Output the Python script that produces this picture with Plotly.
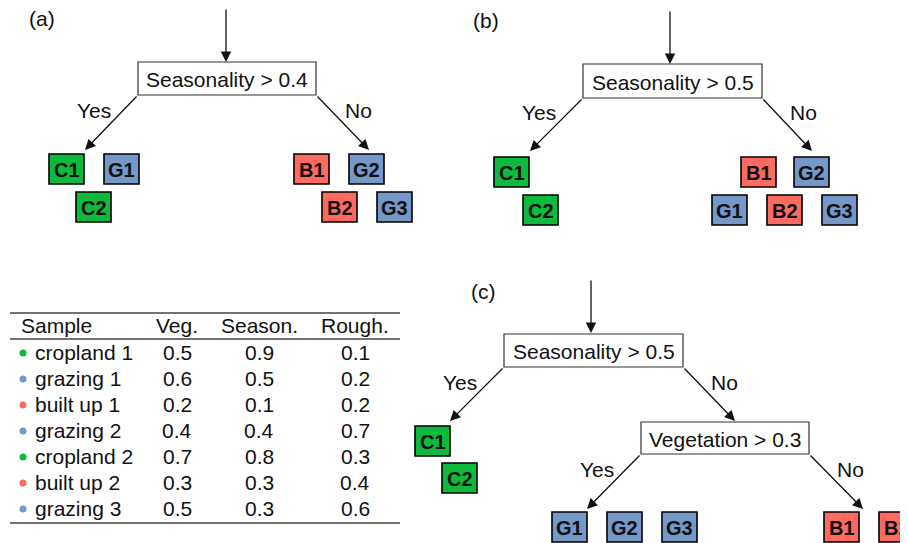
import plotly.graph_objects as go

# ---------------- data ----------------
samples = ["cropland 1", "grazing 1", "built up 1", "grazing 2", "cropland 2", "built up 2", "grazing 3"]
codes = ["C1", "G1", "B1", "G2", "C2", "B2", "G3"]
classes = ["crop", "graze", "built", "graze", "crop", "built", "graze"]
veg = [0.5, 0.6, 0.2, 0.4, 0.7, 0.3, 0.5]
season = [0.9, 0.5, 0.1, 0.4, 0.8, 0.3, 0.3]
rough = [0.1, 0.2, 0.2, 0.7, 0.3, 0.4, 0.6]
headers = ["Sample", "Veg.", "Season.", "Rough."]
thresholds = {"a": 0.4, "b": 0.5, "c": 0.5, "c_veg": 0.3}

colors = {"crop": "#0DBA3E", "graze": "#7598C8", "built": "#FD6A60"}
FONT = "Liberation Sans, Arial, Helvetica, sans-serif"
FS = 21
LEAF_FS = 20

fig = go.Figure()
shapes = []
annotations = []


def text(x, y, s, size=FS, bold=False, xanchor="center"):
    annotations.append(dict(x=x, y=y, xref="x", yref="y", text=("<b>%s</b>" % s) if bold else s,
                            showarrow=False, xanchor=xanchor, yanchor="middle",
                            font=dict(family=FONT, size=size, color="#111")))


def arrow(x0, y0, x1, y1):
    annotations.append(dict(x=x1, y=y1, ax=x0, ay=y0, xref="x", yref="y", axref="x", ayref="y",
                            text="", showarrow=True, arrowhead=2, arrowsize=1.6, arrowwidth=1.3,
                            arrowcolor="#111", standoff=0, startstandoff=0))


def split_box(x0, y0, x1, y1, label):
    shapes.append(dict(type="rect", xref="x", yref="y", x0=x0, y0=y0, x1=x1, y1=y1,
                       line=dict(color="#333", width=1.2), fillcolor="white", layer="above"))
    text((x0 + x1) / 2, (y0 + y1) / 2 + 1, label)


def leaf(x, y, idx):
    shapes.append(dict(type="rect", xref="x", yref="y", x0=x, y0=y, x1=x + 35, y1=y + 30,
                       line=dict(color="#000", width=1.6), fillcolor=colors[classes[idx]], layer="above"))
    text(x + 17.5, y + 15.5, codes[idx], size=LEAF_FS, bold=True)


def members(cond):
    return [i for i in range(len(samples)) if cond(i)]


# ---------------- tree (a) ----------------
text(42, 18, "(a)")
arrow(226, 8, 226, 62)
split_box(138, 62, 316, 95, "Seasonality &gt; %.1f" % thresholds["a"])
arrow(138, 95, 85, 150)
arrow(316, 95, 369, 150)
text(94, 110, "Yes")
text(358, 110, "No")
yes_a = members(lambda i: season[i] > thresholds["a"])
no_a = members(lambda i: not season[i] > thresholds["a"])
for i, (x, y) in zip(yes_a, [(49, 154), (104, 154), (76, 192)]):
    leaf(x, y, i)
for i, (x, y) in zip(no_a, [(294, 154), (349, 154), (322, 192), (377, 192)]):
    leaf(x, y, i)

# ---------------- tree (b) ----------------
text(486, 20, "(b)")
arrow(670, 10, 670, 64)
split_box(583, 64, 762, 98, "Seasonality &gt; %.1f" % thresholds["b"])
arrow(583, 98, 530, 151)
arrow(762, 98, 812, 151)
text(539, 112, "Yes")
text(803, 112, "No")
yes_b = members(lambda i: season[i] > thresholds["b"])
no_b = members(lambda i: not season[i] > thresholds["b"])
for i, (x, y) in zip(yes_b, [(494, 157), (523, 195)]):
    leaf(x, y, i)
for i, (x, y) in zip(no_b, [(712, 195), (741, 157), (794, 157), (767, 195), (822, 195)]):
    leaf(x, y, i)

# ---------------- tree (c) ----------------
text(483, 291, "(c)")
arrow(591, 279, 591, 333)
split_box(504, 334, 683, 367, "Seasonality &gt; %.1f" % thresholds["c"])
arrow(504, 367, 450, 421)
arrow(683, 367, 735, 421)
text(460, 382, "Yes")
text(724, 382, "No")
split_box(641, 422, 809, 454, "Vegetation &gt; %.1f" % thresholds["c_veg"])
arrow(641, 454, 587, 509)
arrow(809, 454, 863, 509)
text(597, 469, "Yes")
text(850, 469, "No")
yes_c = members(lambda i: season[i] > thresholds["c"])
rest = members(lambda i: not season[i] > thresholds["c"])
veg_yes = [i for i in rest if veg[i] > thresholds["c_veg"]]
veg_no = [i for i in rest if not veg[i] > thresholds["c_veg"]]
for i, (x, y) in zip(yes_c, [(415, 426), (442, 463)]):
    leaf(x, y, i)
for i, (x, y) in zip(veg_yes, [(552, 512), (607, 512), (662, 512)]):
    leaf(x, y, i)
for i, (x, y) in zip(veg_no, [(824, 512), (879, 512)]):
    leaf(x, y, i)

# ---------------- table ----------------
rule = dict(color="#444", width=1.3)
shapes.append(dict(type="line", xref="x", yref="y", x0=10, x1=400, y0=313, y1=313, line=rule))
shapes.append(dict(type="line", xref="x", yref="y", x0=10, x1=400, y0=339, y1=339, line=rule))
shapes.append(dict(type="line", xref="x", yref="y", x0=10, x1=400, y0=523, y1=523, line=rule))
col_x = [19, 177, 259, 355]
header_y = 325
text(col_x[0], header_y, headers[0], xanchor="left")
for h, cx in zip(headers[1:], col_x[1:]):
    text(cx, header_y, h)
row_y = [352, 378, 404, 430, 456, 482, 508]
for i, ry in enumerate(row_y):
    text(33, ry, samples[i], xanchor="left")
    text(col_x[1], ry, "%.1f" % veg[i])
    text(col_x[2], ry, "%.1f" % season[i])
    text(col_x[3], ry, "%.1f" % rough[i])

fig.add_trace(go.Scatter(x=[23] * len(samples), y=[ry + 1 for ry in row_y], mode="markers",
                         marker=dict(size=7, color=[colors[c] for c in classes], line=dict(width=0)),
                         hoverinfo="skip", showlegend=False))

# the page body has an 8px margin: shift the visible ranges so page pixels line up
OFF = 8
fig.update_layout(
    width=908 - OFF, height=543 - OFF, margin=dict(l=0, r=0, t=0, b=0),
    paper_bgcolor="white", plot_bgcolor="white",
    xaxis=dict(range=[OFF, 908], visible=False, fixedrange=True),
    yaxis=dict(range=[543, OFF], visible=False, fixedrange=True),
    shapes=shapes, annotations=annotations, showlegend=False,
)
fig.write_html("out.html")
